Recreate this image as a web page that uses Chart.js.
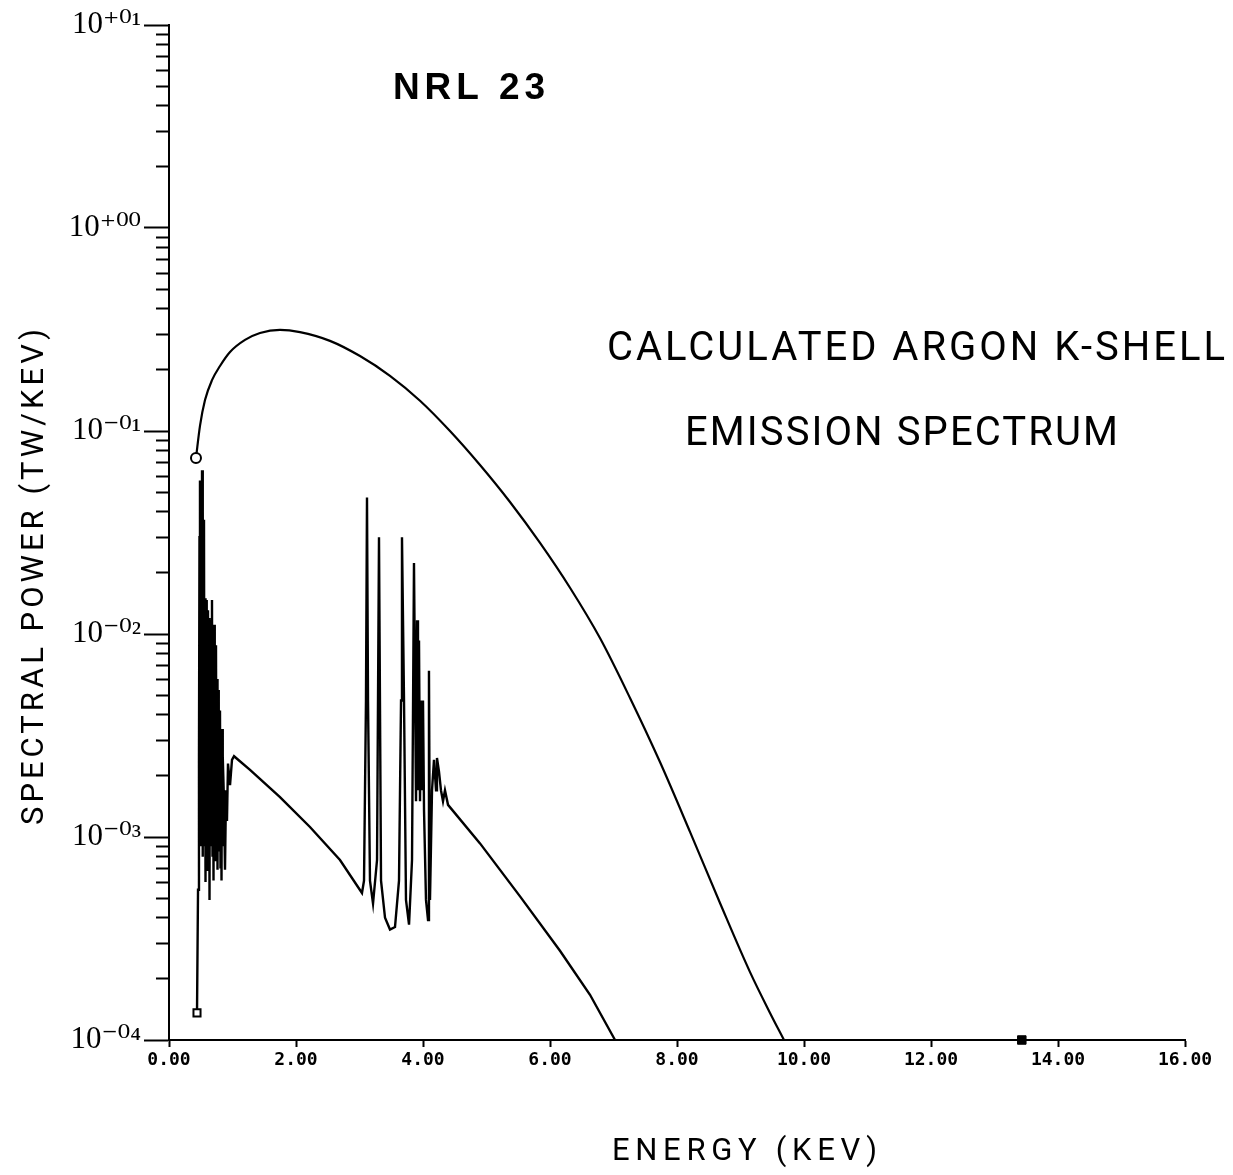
<!DOCTYPE html>
<html>
<head>
<meta charset="utf-8">
<script src="https://cdn.jsdelivr.net/npm/chart.js@4.4.1/dist/chart.umd.min.js"></script>
<style>
  html, body { margin: 0; padding: 0; background: #ffffff; }
  #wrap { width: 1233px; height: 1175px; position: relative; }
</style>
</head>
<body>
<div id="wrap"><canvas id="c"></canvas></div>
<script>
// ---------------- DATA ----------------
// Upper (smooth continuum) curve, energy in keV, power in TW/keV
const upperEnergy = [0.425, 0.488, 0.567, 0.677, 0.803, 0.961, 1.197, 1.433, 1.748, 2.063, 2.535, 3.008, 3.480,
  3.953, 4.425, 4.898, 5.370, 5.843, 6.315, 6.787, 7.260, 7.732, 8.205, 8.677, 9.150, 9.465, 9.685];
const upperPower = [7.36e-2, 1.06e-1, 1.42e-1, 1.78e-1, 2.09e-1, 2.45e-1, 2.81e-1, 3.04e-1, 3.15e-1, 3.07e-1, 2.78e-1,
  2.34e-1, 1.87e-1, 1.41e-1, 1.00e-1, 6.80e-2, 4.47e-2, 2.81e-2, 1.69e-2, 9.55e-3, 4.84e-3, 2.34e-3, 1.06e-3,
  4.73e-4, 2.16e-4, 1.36e-4, 1.0e-4];

// Lower (line emission) curve
const lowerEnergy = [
  0.441, 0.457, 0.472, 0.480, 0.488, 0.496, 0.504, 0.512, 0.520, 0.528, 0.535, 0.543, 0.551, 0.559, 0.567, 0.575,
  0.583, 0.590, 0.598, 0.606, 0.614, 0.622, 0.630, 0.638, 0.646, 0.654, 0.661, 0.669, 0.677, 0.685,
  0.693, 0.701, 0.709, 0.717, 0.724, 0.732, 0.740, 0.748, 0.756, 0.764, 0.772, 0.780, 0.787, 0.795, 0.803, 0.811,
  0.819, 0.827, 0.835, 0.843, 0.850, 0.866, 0.882, 0.898, 0.913, 0.929,
  0.961, 0.992, 1.024,
  1.276, 1.748, 2.220, 2.693, 3.039,
  3.071, 3.102, 3.118, 3.134, 3.165, 3.213, 3.276, 3.307, 3.339, 3.402, 3.480, 3.559, 3.622, 3.654, 3.669, 3.701,
  3.732, 3.780, 3.827, 3.858, 3.890, 3.906, 3.921, 3.937, 3.953, 3.969, 3.984, 4.000, 4.016, 4.047, 4.079, 4.094,
  4.110, 4.142, 4.173, 4.205, 4.220, 4.252, 4.283, 4.315, 4.346, 4.394,
  4.898, 5.528, 6.157, 6.630, 7.024];
const lowerPower = [
  1.36e-4, 5.5e-4, 2.4e-3, 3.0e-2, 5.7e-2, 9.0e-4, 5.5e-2, 1.0e-3, 6.4e-2, 8.0e-4, 4.0e-2, 1.2e-3, 3.65e-2, 9.0e-4,
  1.5e-2, 6.0e-4, 1.47e-2, 8.0e-4, 1.2e-2, 6.9e-4, 1.31e-2, 7.0e-4, 1.2e-2, 4.9e-4, 1.17e-2, 9.0e-4, 1.1e-2, 1.27e-3,
  1.47e-2, 8.0e-4,
  1.1e-2, 6.1e-4, 1.11e-2, 9.0e-4, 9.0e-3, 7.7e-4, 8.8e-3, 1.0e-3, 6.0e-3, 6.9e-4, 5.3e-3, 9.0e-4, 4.2e-3, 8.6e-4,
  4.2e-3, 7.0e-4, 3.4e-3, 6.1e-4, 3.4e-3, 9.0e-4, 2.5e-3, 1.5e-3, 6.9e-4, 1.7e-3, 1.2e-3, 2.3e-3,
  1.8e-3, 2.4e-3, 2.5e-3,
  2.14e-3, 1.57e-3, 1.12e-3, 7.7e-4, 5.3e-4,
  6.1e-4, 4.7e-3, 4.7e-2, 4.7e-3, 6.1e-4, 4.7e-4, 7.7e-4, 3.0e-2, 6.1e-4, 4.0e-4, 3.5e-4, 3.6e-4, 6.1e-4, 4.7e-3,
  3.0e-2, 4.7e-3, 4.9e-4, 3.7e-4, 7.7e-4, 2.24e-2, 1.5e-3, 1.17e-2, 1.7e-3, 9.3e-3, 1.5e-3, 4.7e-3, 1.7e-3, 4.7e-3,
  1.36e-3, 4.9e-4, 3.9e-4, 6.6e-3, 4.9e-4, 1.7e-3, 2.4e-3, 1.7e-3, 2.45e-3, 2.1e-3, 1.7e-3, 1.5e-3, 1.7e-3, 1.44e-3,
  9.3e-4, 5.1e-4, 2.75e-4, 1.67e-4, 1.0e-4];

// Isolated end marker on the axis
const markerEnergy = [13.43];
const markerPower = [1.0e-4];

// Tick values / labels
const xTickValues = [0, 2, 4, 6, 8, 10, 12, 14, 16];
const xTickLabels = ['0.00', '2.00', '4.00', '6.00', '8.00', '10.00', '12.00', '14.00', '16.00'];
const yDecades = [1e-4, 1e-3, 1e-2, 1e-1, 1, 10];
const yTickLabels = ['10\u207B\u2070\u2074', '10\u207B\u2070\u00B3', '10\u207B\u2070\u00B2', '10\u207B\u2070\u00B9', '10\u207A\u2070\u2070', '10\u207A\u2070\u00B9'];
const yMinorSteps = [1, 2, 3, 4, 5, 6, 7, 8, 9];

// Texts
const plotTitle = 'NRL 23';
const noteLines = ['CALCULATED ARGON K-SHELL', 'EMISSION SPECTRUM'];
const xTitle = 'ENERGY (KEV)';
const yTitle = 'SPECTRAL POWER (TW/KEV)';

// ---------------- BUILD ----------------
const toPts = (xs, ys) => xs.map((x, i) => ({ x: x, y: ys[i] }));
const isDecade = v => Math.abs(Math.log10(v) - Math.round(Math.log10(v))) < 1e-9;

function fitText(ctx, text, x, y, width, font) {
  ctx.save();
  ctx.font = font;
  ctx.fillStyle = '#000';
  ctx.textAlign = 'left';
  ctx.textBaseline = 'middle';
  if ('letterSpacing' in ctx) ctx.letterSpacing = '0px';
  const w0 = ctx.measureText(text).width;
  const n = [...text].length;
  if ('letterSpacing' in ctx) {
    ctx.letterSpacing = ((width - w0) / (n - 1)) + 'px';
    ctx.fillText(text, x, y);
  } else {
    ctx.translate(x, y);
    ctx.scale(width / w0, 1);
    ctx.fillText(text, 0, 0);
  }
  ctx.restore();
}

const textPlugin = {
  id: 'texts',
  afterDraw(chart) {
    const ctx = chart.ctx;
    fitText(ctx, plotTitle, 393, 89, 152, 'bold 37px "Liberation Sans", Arial, sans-serif');
    fitText(ctx, noteLines[0], 607, 350, 618, '40px Roboto, "DejaVu Sans", sans-serif');
    fitText(ctx, noteLines[1], 685, 435, 433, '40px Roboto, "DejaVu Sans", sans-serif');
    fitText(ctx, xTitle, 612, 1152, 265, '31px Roboto, "DejaVu Sans", sans-serif');
    ctx.save();
    ctx.translate(35, 577);
    ctx.rotate(-Math.PI / 2);
    fitText(ctx, yTitle, -248, 0, 496, '31px Roboto, "DejaVu Sans", sans-serif');
    ctx.restore();
  }
};

new Chart(document.getElementById('c'), {
  type: 'scatter',
  data: {
    datasets: [
      {
        label: 'continuum',
        data: toPts(upperEnergy, upperPower),
        showLine: true,
        borderColor: '#000',
        borderWidth: 2.2,
        cubicInterpolationMode: 'monotone',
        pointRadius: c => c.dataIndex === 0 ? 5 : 0,
        pointStyle: 'circle',
        pointBackgroundColor: '#fff',
        pointBorderColor: '#000',
        pointBorderWidth: 2,
        clip: false
      },
      {
        label: 'lines',
        data: toPts(lowerEnergy, lowerPower),
        showLine: true,
        borderColor: '#000',
        borderWidth: 2.4,
        tension: 0,
        pointRadius: c => c.dataIndex === 0 ? 5 : 0,
        pointStyle: 'rect',
        pointBackgroundColor: '#fff',
        pointBorderColor: '#000',
        pointBorderWidth: 2,
        clip: false
      },
      {
        label: 'end',
        data: toPts(markerEnergy, markerPower),
        showLine: false,
        pointRadius: 6,
        pointStyle: 'rect',
        pointBackgroundColor: '#000',
        pointBorderColor: '#000',
        clip: false
      }
    ]
  },
  options: {
    responsive: true,
    maintainAspectRatio: false,
    animation: false,
    events: [],
    layout: { padding: { left: 0, right: 48, top: 25, bottom: 0 } },
    plugins: { legend: { display: false }, tooltip: { enabled: false }, title: { display: false } },
    scales: {
      x: {
        type: 'linear',
        min: 0, max: 16,
        afterBuildTicks: s => { s.ticks = xTickValues.map(v => ({ value: v })); },
        afterFit: s => { s.height = 135; },
        ticks: {
          autoSkip: false,
          maxRotation: 0,
          padding: 3,
          color: '#000',
          font: { family: '"DejaVu Sans Mono", monospace', size: 18, weight: 'bold' },
          callback: (v) => { const i = xTickValues.indexOf(v); return i >= 0 ? xTickLabels[i] : ''; }
        },
        grid: { drawOnChartArea: false, drawTicks: true, tickLength: 7, tickColor: '#000', tickWidth: 2 },
        border: { display: true, color: '#000', width: 2 }
      },
      y: {
        type: 'logarithmic',
        min: 1e-4, max: 10,
        afterBuildTicks: s => {
          const t = [];
          yDecades.forEach((d, k) => {
            if (k === yDecades.length - 1) { t.push({ value: d }); return; }
            yMinorSteps.forEach(m => t.push({ value: d * m }));
          });
          s.ticks = t;
        },
        afterFit: s => { s.width = 169; },
        ticks: {
          autoSkip: false,
          padding: 3,
          color: '#000',
          font: { family: '"Liberation Serif", "DejaVu Serif", serif', size: 31 },
          callback: (v) => {
            if (!isDecade(v)) return '';
            const i = yDecades.findIndex(d => Math.abs(Math.log10(d) - Math.log10(v)) < 1e-9);
            return i >= 0 ? yTickLabels[i] : '';
          }
        },
        grid: {
          drawOnChartArea: false, drawTicks: true, tickLength: 25, tickColor: '#000', tickWidth: 2,
          tickBorderDash: c => (c.tick && isDecade(c.tick.value)) ? [] : [0, 12, 13, 200]
        },
        border: { display: true, color: '#000', width: 2 }
      }
    }
  },
  plugins: [textPlugin]
});
</script>
</body>
</html>
